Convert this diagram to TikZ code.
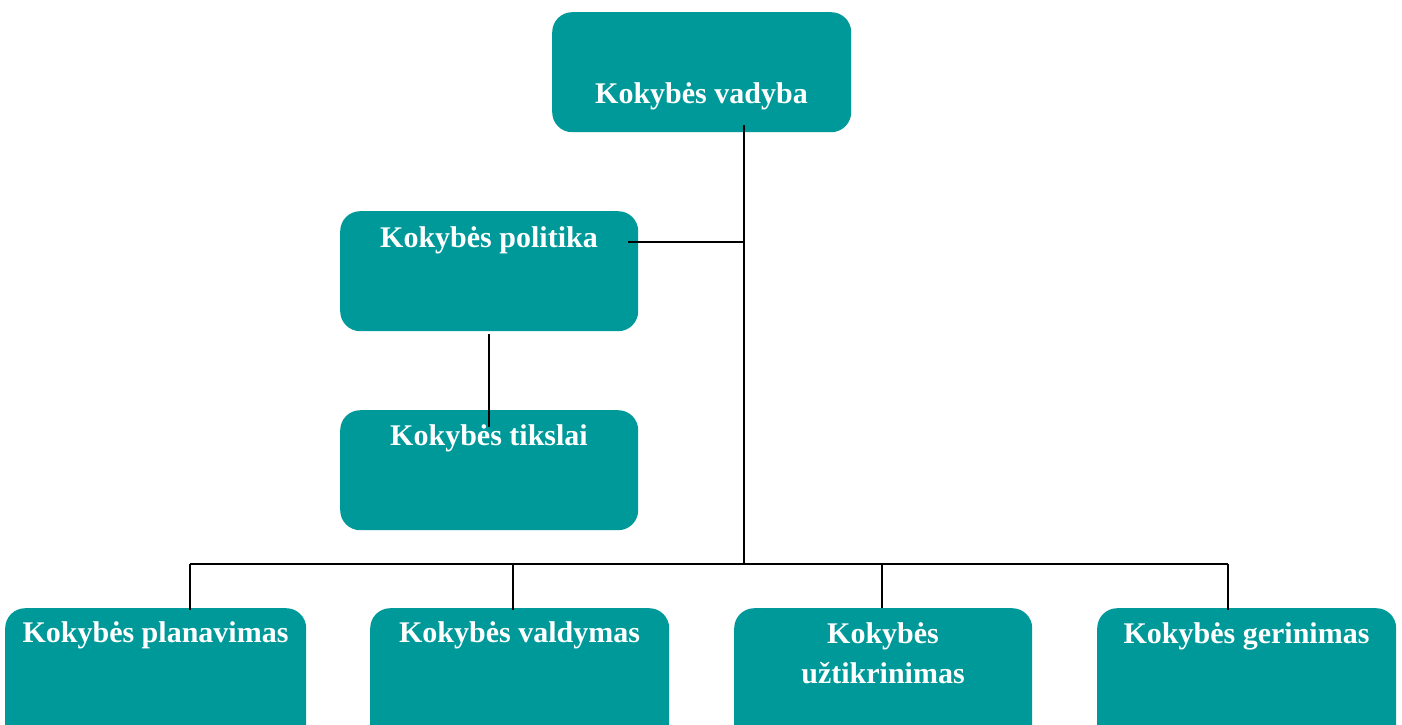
\documentclass[tikz,border=0pt]{standalone}
\usepackage{fontspec}
\setmainfont{Liberation Serif}
\definecolor{boxteal}{HTML}{009999}
\begin{document}
\begin{tikzpicture}[x=1pt,y=-1pt,
  box/.style={draw=none, fill=boxteal, rounded corners=20pt, inner sep=0pt,
              minimum height=120pt, anchor=north west},
  lbl/.style={text=white, font=\bfseries\fontsize{30}{40}\selectfont,
              inner sep=0pt, align=center},
  link/.style={line width=1.5pt, black}]
\useasboundingbox (0,0) rectangle (1402,725);
\clip (0,0) rectangle (1402,725);

% boxes
\node[box, minimum width=299pt] (top)  at (552,12)  {};
\node[box, minimum width=298pt] (pol)  at (340,211) {};
\node[box, minimum width=298pt] (tik)  at (340,410) {};
\node[box, minimum width=301pt, minimum height=140pt] (plan) at (5,608)    {};
\node[box, minimum width=299pt, minimum height=140pt] (vald) at (370,608)  {};
\node[box, minimum width=298pt, minimum height=140pt] (uzt)  at (734,608)  {};
\node[box, minimum width=299pt, minimum height=140pt] (ger)  at (1097,608) {};

% connectors
\coordinate (hub) at (744,242);
\coordinate (bus) at (744,564);
\coordinate (topout) at ([yshift=7pt]top.south);
\coordinate (polout) at ([xshift=-10pt]pol.east);
\coordinate (d1) at (190,564);
\coordinate (d2) at (513,564);
\coordinate (d3) at (882,564);
\coordinate (d4) at (1228,564);

\draw[link] (topout -| hub) -- (bus);
\draw[link] (polout |- hub) -- (hub);
\draw[link] ([yshift=-3pt]pol.south) -- ([yshift=-17pt]tik.north);
\draw[link] (d1) -- (d4);
\draw[link] (d1) -- ([yshift=-2pt]d1 |- plan.north);
\draw[link] (d2) -- ([yshift=-2pt]d2 |- vald.north);
\draw[link] (d3) -- (d3 |- uzt.north);
\draw[link] (d4) -- ([yshift=-2pt]d4 |- ger.north);

% labels
\node[lbl, anchor=base] (ttop)  at (701.5,103) {Kokybės vadyba};
\node[lbl, anchor=base] (tpol)  at (489,247)   {Kokybės politika};
\node[lbl, anchor=base] (ttik)  at (489,445)   {Kokybės tikslai};
\node[lbl, anchor=base] (tplan) at (155.5,642) {Kokybės planavimas};
\node[lbl, anchor=base] (tvald) at (519.5,642) {Kokybės valdymas};
\node[lbl, anchor=north] (tuzt) at (883,622.5) {Kokybės\\užtikrinimas};
\node[lbl, anchor=base] (tger)  at (1246.5,643) {Kokybės gerinimas};
\end{tikzpicture}
\end{document}
